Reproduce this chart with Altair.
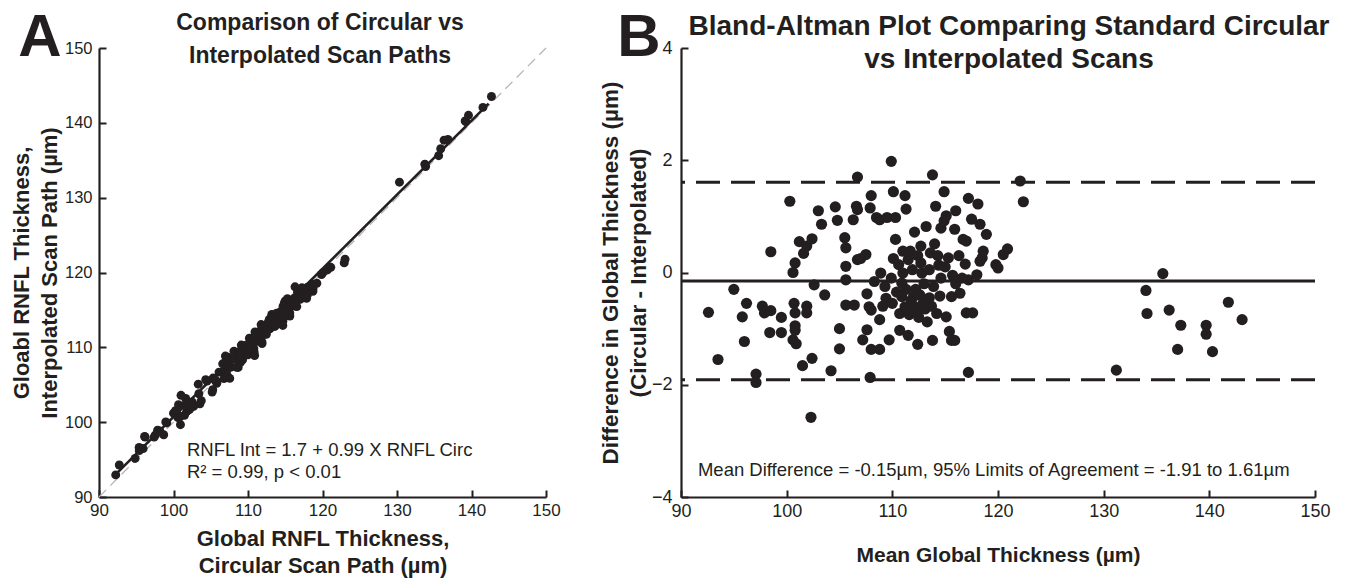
import altair as alt
import pandas as pd

# ---- Bland-Altman data: mean of methods (µm) and difference (circular - interpolated)
ba_mean = [
    92.6, 93.5, 95.0, 95.8, 96.0, 96.2, 97.1, 97.1, 97.7, 97.9, 98.5, 98.5, 98.4, 99.5, 99.5,
    100.3, 100.6, 100.8, 100.7, 100.8, 100.8, 100.8, 100.6, 100.9, 101.2, 101.6, 102.4, 101.9,
    101.5, 102.4, 101.9, 101.9, 102.3, 102.6, 103.0, 103.3, 103.6, 104.2, 104.6, 104.8, 105.0,
    105.0, 105.5, 105.6, 105.6, 105.6, 105.6,
    106.3, 106.6, 106.7, 106.7, 106.7, 106.4, 107.0, 107.5, 107.6, 107.8, 108.0, 107.6, 107.2,
    108.0, 107.9, 108.0, 107.9, 108.5, 108.3, 108.8, 108.8, 108.8, 108.9, 109.3, 109.4, 109.5,
    109.7, 109.9, 110.1, 110.3, 110.3, 110.6, 110.7, 110.7, 110.9, 110.9, 111.0, 111.0, 111.2,
    111.3, 111.2, 111.5, 111.5, 111.7, 111.8, 112.0, 112.1, 112.1, 112.2, 112.4, 112.5, 112.7,
    112.7, 112.8, 112.9, 113.0, 113.2, 113.3, 113.5, 113.5, 113.8, 113.8, 114.0, 114.1, 114.2,
    114.4, 114.5, 114.6, 114.6, 114.9, 114.9, 115.1, 115.1, 115.3, 115.4, 115.6, 115.6, 115.7,
    115.9, 115.9, 116.0, 116.0, 116.4, 116.7, 116.9, 117.0, 117.0, 117.2, 117.2, 117.2, 117.6,
    118.0, 118.1, 118.3, 118.3, 118.5, 118.6, 118.9, 119.8, 120.0, 120.5, 120.9, 122.1, 122.4,
    110.0, 110.4, 111.6, 112.3, 112.6, 113.1, 113.7, 113.9, 114.3, 112.4, 111.3, 109.9, 113.6,
    115.0, 116.3, 116.6, 117.5, 111.9, 110.1, 109.1,
    131.2, 134.0, 134.1, 135.6, 136.2, 137.3, 137.0, 139.7, 139.7, 140.3, 141.8, 143.1,
]
ba_diff = [
    -0.71, -1.55, -0.30, -0.79, -1.23, -0.55, -1.81, -1.96, -0.60, -0.72, -0.68, 0.37, -1.07, -0.80, -1.07,
    1.27, 0.00, 0.17, -0.55, -0.72, -0.95, -1.03, -1.20, -1.27, 0.55, 0.34, 0.60, 0.47,
    -1.66, -1.53, -0.60, -0.72, -2.58, -0.22, 1.10, 0.86, -0.40, -1.75, 1.17, 0.93, -1.00,
    -1.36, 0.62, 0.44, 0.11, -0.13, -0.58,
    0.94, 1.18, 1.70, 1.12, 0.23, -0.58, 0.25, 0.32, -0.38, -0.61, -0.67, -1.02, -1.20,
    -1.37, -1.87, 1.37, 1.15, 0.98, -0.16, -0.84, -1.37, 0.94, -0.01, -0.25, -0.46, 0.98,
    -1.20, 1.98, 1.44, 0.98, 0.59, 0.14, -0.73, -1.03, -0.19, -0.43, 0.38, -0.01, 1.37,
    1.13, -0.61, -1.12, 0.23, 0.38, -0.50, -0.43, 0.72, -0.61, -0.30, -1.28, -0.80, 0.47,
    0.17, -0.01, -0.55, -0.20, 0.82, -0.88, 0.05, -0.45, 1.74, -1.21, 0.51, 1.18, -0.73,
    0.13, -0.42, 0.79, -0.10, 1.44, 0.92, 1.01, -0.79, 0.26, -1.05, -0.43, -1.21, -0.05,
    0.77, -1.21, 1.10, -0.20, -0.37, 0.59, 0.15, 0.56, -0.72, 1.32, -0.13, -1.78, -0.72,
    -0.04, 1.22, 0.86, 0.20, 0.26, 0.38, 0.68, 0.14, 0.08, 0.32, 0.42, 1.63, 1.26,
    -0.55, -0.35, -0.75, -0.70, -0.40, -0.65, -0.60, -0.25, 0.30, 0.30, -0.30, -0.10, 0.35,
    0.10, 0.30, -0.10, 0.95, 0.05, 0.25, -0.60,
    -1.74, -0.32, -0.73, -0.02, -0.67, -0.94, -1.37, -0.94, -1.10, -1.41, -0.53, -0.84,
]

thick_ticks = [90, 100, 110, 120, 130, 140, 150]
diff_ticks = [-4, -2, 0, 2, 4]
identity_line = [90, 150]
fit_x = [92.0, 142.3]
fit_intercept = 1.7
fit_slope = 0.99
mean_difference = -0.15
limits_of_agreement = [-1.91, 1.61]
eq_lines = ["RNFL Int = 1.7 + 0.99 X RNFL Circ", "R\u00b2 = 0.99, p < 0.01"]
eq_y = [96.3, 93.3]
eq_x = [101.8, 101.8]
ba_note = ["Mean Difference = -0.15\u00b5m, 95% Limits of Agreement = -1.91 to 1.61\u00b5m"]
ba_note_x = [119.6]
ba_note_y = [-3.52]
title_a = "Comparison of Circular vs\nInterpolated Scan Paths"
title_b = "Bland-Altman Plot Comparing Standard Circular\nvs Interpolated Scans"

INK = "#231f20"
SANS = "Liberation Sans"

WA, HA = 447, 449
WB, HB = 634, 449

pts = pd.DataFrame({"mean": ba_mean, "diff": ba_diff})
pts["circ"] = pts["mean"] + pts["diff"] / 2
pts["interp"] = pts["mean"] - pts["diff"] / 2

xA = alt.Scale(domain=[90, 150], nice=False, zero=False)
yA = alt.Scale(domain=[90, 150], nice=False, zero=False)
xB = alt.Scale(domain=[90, 150], nice=False, zero=False)
yB = alt.Scale(domain=[-4, 4], nice=False, zero=False)


def tick_axis(values, orient):
    # inward pointing ticks only
    return alt.Axis(values=values, orient=orient, domain=False, labels=False, ticks=True,
                    tickSize=7, tickWidth=2, tickColor=INK, offset=-7, title=None, grid=False)


def main_axis(values, orient, title, lsize, tsize, tpad, lpad, lh):
    return alt.Axis(values=values, orient=orient, domain=True, domainColor=INK, domainWidth=2.2,
                    ticks=False, grid=False, labels=True, labelFont=SANS, labelFontSize=lsize,
                    labelColor=INK, labelPadding=lpad, labelFlush=False, labelOverlap=False,
                    title=title, titleFont=SANS, titleFontSize=tsize, titleFontWeight="bold",
                    titleColor=INK, titlePadding=tpad, titleLineHeight=lh)


def label_text(text, x, y, size, weight="bold", align="center"):
    return alt.Chart(pd.DataFrame({"t": [text]})).mark_text(
        font=SANS, fontWeight=weight, fontSize=size, color=INK, align=align,
        baseline="alphabetic", lineBreak="\n", lineHeight=33,
    ).encode(x=alt.value(x), y=alt.value(y), text="t:N")


# ---------------- Panel A ----------------
diagA = alt.Chart(pd.DataFrame({"v": identity_line})).mark_line(
    color="#b5b5b5", strokeDash=[10, 6], strokeWidth=1.3
).encode(
    x=alt.X("v:Q", scale=xA, axis=tick_axis(thick_ticks, "bottom")),
    y=alt.Y("v:Q", scale=yA, axis=tick_axis(thick_ticks, "left")),
)

ptsA = alt.Chart(pts).mark_circle(size=80, color=INK, opacity=1).encode(
    x=alt.X("circ:Q", scale=xA,
            axis=main_axis(thick_ticks, "bottom",
                           ["Global RNFL Thickness,", "Circular Scan Path (\u00b5m)"],
                           17, 22, 10, 5, 27)),
    y=alt.Y("interp:Q", scale=yA,
            axis=main_axis(thick_ticks, "left",
                           ["Gloabl RNFL Thickness,", "Interpolated Scan Path (\u00b5m)"],
                           16.5, 22, 3, 7, 28)),
)

fitA = alt.Chart(pd.DataFrame({"x": fit_x})).transform_calculate(
    y=f"{fit_intercept} + {fit_slope} * datum.x"
).mark_line(color=INK, strokeWidth=2.6).encode(
    x=alt.X("x:Q", scale=xA, axis=None),
    y=alt.Y("y:Q", scale=yA, axis=None),
)

eqA = alt.Chart(pd.DataFrame({"t": eq_lines, "x": eq_x, "y": eq_y})).mark_text(
    align="left", baseline="middle", font=SANS, fontSize=18.5, color=INK
).encode(
    x=alt.X("x:Q", scale=xA, axis=None),
    y=alt.Y("y:Q", scale=yA, axis=None),
    text="t:N",
)

panelA = alt.layer(
    diagA, fitA, ptsA, eqA,
    label_text("A", -59, 8, 60),
    label_text(title_a, 221, -18, 23),
).resolve_axis(x="independent", y="independent").properties(width=WA, height=HA)

# ---------------- Panel B ----------------
loaB = alt.Chart(pd.DataFrame({"d": limits_of_agreement})).mark_rule(
    color=INK, strokeWidth=3, strokeDash=[24, 11]
).encode(y=alt.Y("d:Q", scale=yB, axis=None))

meanB = alt.Chart(pd.DataFrame({"d": [mean_difference]})).mark_rule(
    color=INK, strokeWidth=3
).encode(y=alt.Y("d:Q", scale=yB, axis=None))

ptsB = alt.Chart(pts).mark_circle(size=125, color=INK, opacity=1).encode(
    x=alt.X("mean:Q", scale=xB,
            axis=main_axis(thick_ticks, "bottom", "Mean Global Thickness (\u00b5m)",
                           18, 21, 24, 5, 26)),
    y=alt.Y("diff:Q", scale=yB,
            axis=main_axis(diff_ticks, "left",
                           ["Difference in Global Thickness (\u00b5m)", "(Circular - Interpolated)"],
                           18, 22.5, 1, 9, 28)),
)

noteB = alt.Chart(pd.DataFrame({"t": ba_note, "x": ba_note_x, "y": ba_note_y})).mark_text(
    align="center", baseline="middle", font=SANS, fontSize=18.5, color=INK
).encode(
    x=alt.X("x:Q", scale=xB, axis=tick_axis(thick_ticks, "bottom")),
    y=alt.Y("y:Q", scale=yB, axis=tick_axis(diff_ticks, "left")),
    text="t:N",
)

panelB = alt.layer(
    loaB, meanB, ptsB, noteB,
    label_text("B", -42, 8, 60),
    label_text(title_b, 328, -13, 28),
).resolve_axis(x="independent", y="independent").properties(width=WB, height=HB)

chart = alt.hconcat(panelA, panelB, spacing=135, bounds="flush").properties(
    padding={"left": 10, "top": 8, "right": 5, "bottom": 5},
    background="white",
).configure_view(stroke=None)

chart.save("out.html", embed_options={"renderer": "svg", "actions": False})
